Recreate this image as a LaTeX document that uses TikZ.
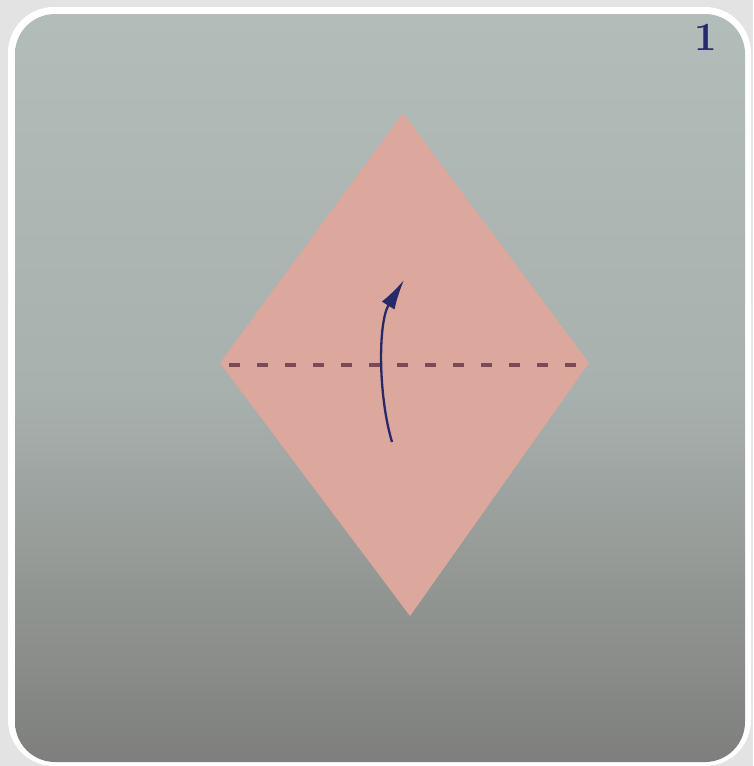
\documentclass[tikz,border=0pt]{standalone}
\usetikzlibrary{arrows.meta}
\definecolor{outerbg}{HTML}{E3E3E3}
\definecolor{phototop}{HTML}{B2BCB9}
\definecolor{photomid}{HTML}{A9B1AE}
\definecolor{photobot}{HTML}{7E7F7C}
\definecolor{paper}{HTML}{DCA79C}
\definecolor{crease}{HTML}{7A4A58}
\definecolor{ink}{HTML}{262A6A}
\tikzset{
  frame/.style={fill=white, rounded corners=46pt},
  photo/.style={top color=phototop, bottom color=photobot, middle color=photomid, rounded corners=40pt},
  sheet/.style={fill=paper, draw=none},
  foldline/.style={draw=crease, line width=3.6pt, dash pattern=on 11pt off 17pt},
  foldarrow/.style={draw=ink, line width=2.3pt, -{Latex[length=30pt,width=15pt]}},
  stepnum/.style={text=ink, font=\fontsize{40}{40}\selectfont\bfseries}
}
\begin{document}
\begin{tikzpicture}[x=1pt,y=-1pt]
\useasboundingbox (0,0) rectangle (753,766);
\fill[outerbg] (0,0) rectangle (753,766);
\fill[frame] (8,7) rectangle (751,766);
\shade[photo] (15,14) rectangle (745,762);
\coordinate (T) at (403,113);
\coordinate (L) at (220,363);
\coordinate (R) at (589,363);
\coordinate (B) at (410,616);
\fill[sheet] (T) -- (R) -- (B) -- (L) -- cycle;
\coordinate (fl) at (229,365);
\coordinate (fr) at (586,365);
\draw[foldline] (fl) -- (fr);
\coordinate (a0) at (392,442);
\coordinate (a1) at (404,280);
\draw[foldarrow] (a0) .. controls (378,395) and (378,322) .. (a1);
\node[stepnum] (num) at (706,37) {1};
\end{tikzpicture}
\end{document}
